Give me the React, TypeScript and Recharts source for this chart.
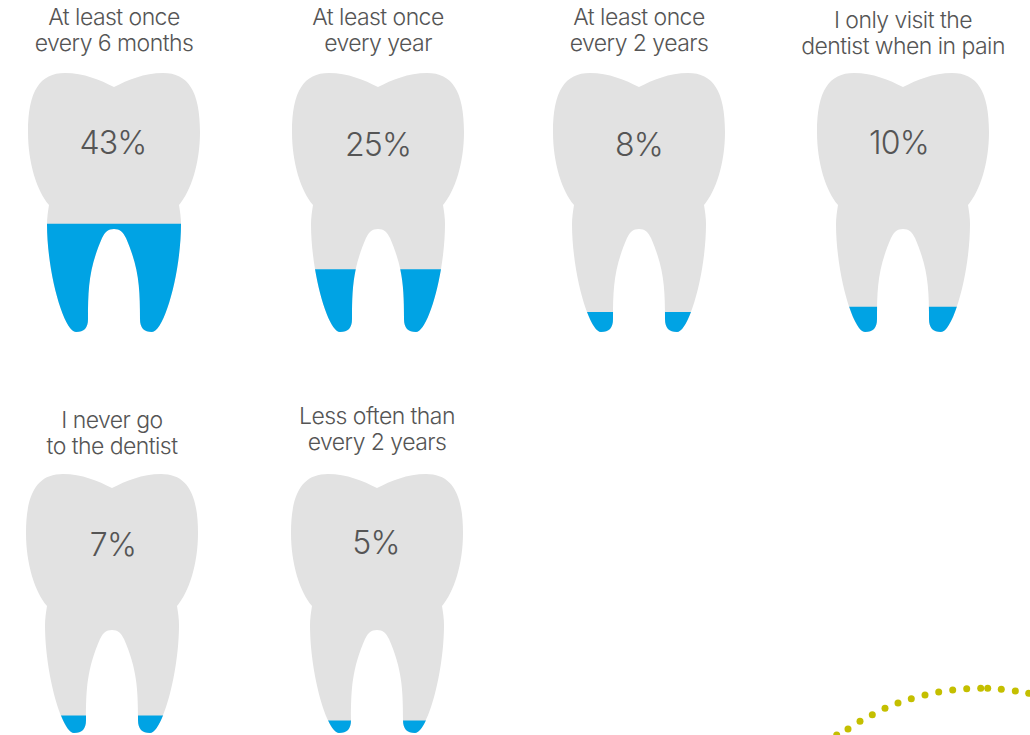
import React from "react";
import { BarChart, Bar, XAxis, YAxis, ScatterChart, Scatter, LabelList } from "recharts";

// Survey answers, in reading order
const answers = [
  ["At least once", "every 6 months"],
  ["At least once", "every year"],
  ["At least once", "every 2 years"],
  ["I only visit the", "dentist when in pain"],
  ["I never go", "to the dentist"],
  ["Less often than", "every 2 years"],
];
const shares = [43, 25, 8, 10, 7, 5];

// Decorative dotted arc in the lower right corner
const arcX = [836.7, 848, 860, 872.3, 885, 898, 911.3, 925, 938.7, 952.7, 966.7, 980.7, 987.7, 1001.3, 1015.3, 1028.7];
const arcY = [735, 729, 721.3, 714.7, 708.3, 703, 698.7, 695, 692, 690, 688.7, 688.3, 688.3, 689.3, 691, 693.3];

// Where each tooth sits on the page: centre x, crown top y, title baseline, percent label position
const placements = [
  { cx: 114, top: 73, titleY: 25, pctX: 113, pctY: 154 },
  { cx: 378, top: 73, titleY: 25, pctX: 378, pctY: 156 },
  { cx: 639, top: 73, titleY: 25, pctX: 639, pctY: 156 },
  { cx: 903, top: 73, titleY: 28, pctX: 899, pctY: 154 },
  { cx: 112, top: 474, titleY: 428, pctX: 113, pctY: 556 },
  { cx: 377, top: 474, titleY: 424, pctX: 376, pctY: 554 },
];

const GRAY = "#e2e2e2";
const BLUE = "#00a3e4";
const INK = "#555555";
const FONT = "Inter, 'Liberation Sans', sans-serif";
const TOOTH_W = 172;
const TOOTH_H = 259;
const CHART_W = 240;
const SCALE_MAX = 103;
const AXIS_H = 30;

// Tooth outline in a 172 x 259 box, origin at the top centre
const toothPath = (ox: number, oy: number) => {
  const p = (dx: number, dy: number) => `${ox + dx} ${oy + dy}`;
  return [
    `M${p(0, 14)}`,
    `C${p(14, 7)} ${p(30, 0)} ${p(49, 0)}`,
    `C${p(74, 0)} ${p(86, 18)} ${p(86, 59)}`,
    `C${p(86, 90)} ${p(77, 118)} ${p(65, 132)}`,
    `C${p(66, 138)} ${p(67, 145)} ${p(67, 151)}`,
    `C${p(67, 200)} ${p(50, 259)} ${p(38, 259)}`,
    `C${p(30, 259)} ${p(26, 255)} ${p(26, 246)}`,
    `C${p(26, 215)} ${p(25, 195)} ${p(12, 165)}`,
    `C${p(9, 159)} ${p(6, 156)} ${p(0, 156)}`,
    `C${p(-6, 156)} ${p(-9, 159)} ${p(-12, 165)}`,
    `C${p(-25, 195)} ${p(-26, 215)} ${p(-26, 246)}`,
    `C${p(-26, 255)} ${p(-30, 259)} ${p(-38, 259)}`,
    `C${p(-50, 259)} ${p(-67, 200)} ${p(-67, 151)}`,
    `C${p(-67, 145)} ${p(-66, 138)} ${p(-65, 132)}`,
    `C${p(-77, 118)} ${p(-86, 90)} ${p(-86, 59)}`,
    `C${p(-86, 18)} ${p(-74, 0)} ${p(-49, 0)}`,
    `C${p(-30, 0)} ${p(-14, 7)} ${p(0, 14)}`,
    "Z",
  ].join(" ");
};

const ToothBar = (props: any) => {
  const { x, y, width, height, background, index, clipKey } = props;
  const bg = background ?? { x, y: y + height - TOOTH_H, width, height: TOOTH_H };
  const d = toothPath(bg.x + bg.width / 2, bg.y);
  const id = `fill-level-${clipKey}-${index}`;
  return (
    <g>
      <clipPath id={id}>
        <rect x={bg.x} y={y} width={bg.width} height={height} />
      </clipPath>
      <path d={d} fill={GRAY} />
      <path d={d} fill={BLUE} clipPath={`url(#${id})`} />
    </g>
  );
};

const TitleTick = ({ x, lines, baseline }: any) => (
  <text x={x} textAnchor="middle" fontFamily={FONT} fontWeight={300} fontSize={23} letterSpacing={-0.55} fill={INK}>
    {lines.map((line: string, k: number) => (
      <tspan key={k} x={x} y={baseline + k * 26}>
        {line}
      </tspan>
    ))}
  </text>
);

const ToothChart = ({ i }: { i: number }) => {
  const place = placements[i];
  const chartTop = place.top - 73;
  const left = place.cx - CHART_W / 2;
  const rows = [{ answer: answers[i].join(" "), share: shares[i] }];
  const side = (CHART_W - TOOTH_W) / 2;
  return (
    <div style={{ position: "absolute", left, top: chartTop }}>
      <BarChart
        width={CHART_W}
        height={73 + TOOTH_H + 1}
        data={rows}
        margin={{ top: 73 - AXIS_H, right: side, bottom: 1, left: side }}
        barCategoryGap={0}
      >
        <XAxis
          dataKey="answer"
          orientation="top"
          height={AXIS_H}
          axisLine={false}
          tickLine={false}
          interval={0}
          tick={(t: any) => <TitleTick x={t.x} lines={answers[i]} baseline={place.titleY - chartTop} />}
        />
        <YAxis hide domain={[0, SCALE_MAX]} />
        <Bar dataKey="share" isAnimationActive={false} shape={(p: any) => <ToothBar {...p} clipKey={i} />}>
          <LabelList
            dataKey="share"
            content={(l: any) => (
              <text
                x={place.pctX - left}
                y={place.pctY - chartTop}
                textAnchor="middle"
                fontFamily={FONT}
                fontWeight={300}
                fontSize={32}
                letterSpacing={-0.8}
                fill={INK}
              >
                {`${l.value}%`}
              </text>
            )}
          />
        </Bar>
      </BarChart>
    </div>
  );
};

const arcPoints = arcX.map((x, k) => ({ x, y: arcY[k] }));

export default function App() {
  return (
    <div style={{ position: "absolute", left: 0, top: 0, width: 1030, height: 735, overflow: "hidden", background: "#fff" }}>
      {shares.map((_, i) => (
        <ToothChart key={i} i={i} />
      ))}
      <div style={{ position: "absolute", left: 820, top: 670 }}>
        <ScatterChart width={210} height={65} margin={{ top: 0, right: 0, bottom: 0, left: 0 }}>
          <XAxis hide type="number" dataKey="x" domain={[820, 1030]} />
          <YAxis hide type="number" dataKey="y" domain={[670, 735]} reversed />
          <Scatter
            data={arcPoints}
            isAnimationActive={false}
            shape={(p: any) => <circle cx={p.cx} cy={p.cy} r={3.5} fill="#c4bf00" />}
          />
        </ScatterChart>
      </div>
    </div>
  );
}
